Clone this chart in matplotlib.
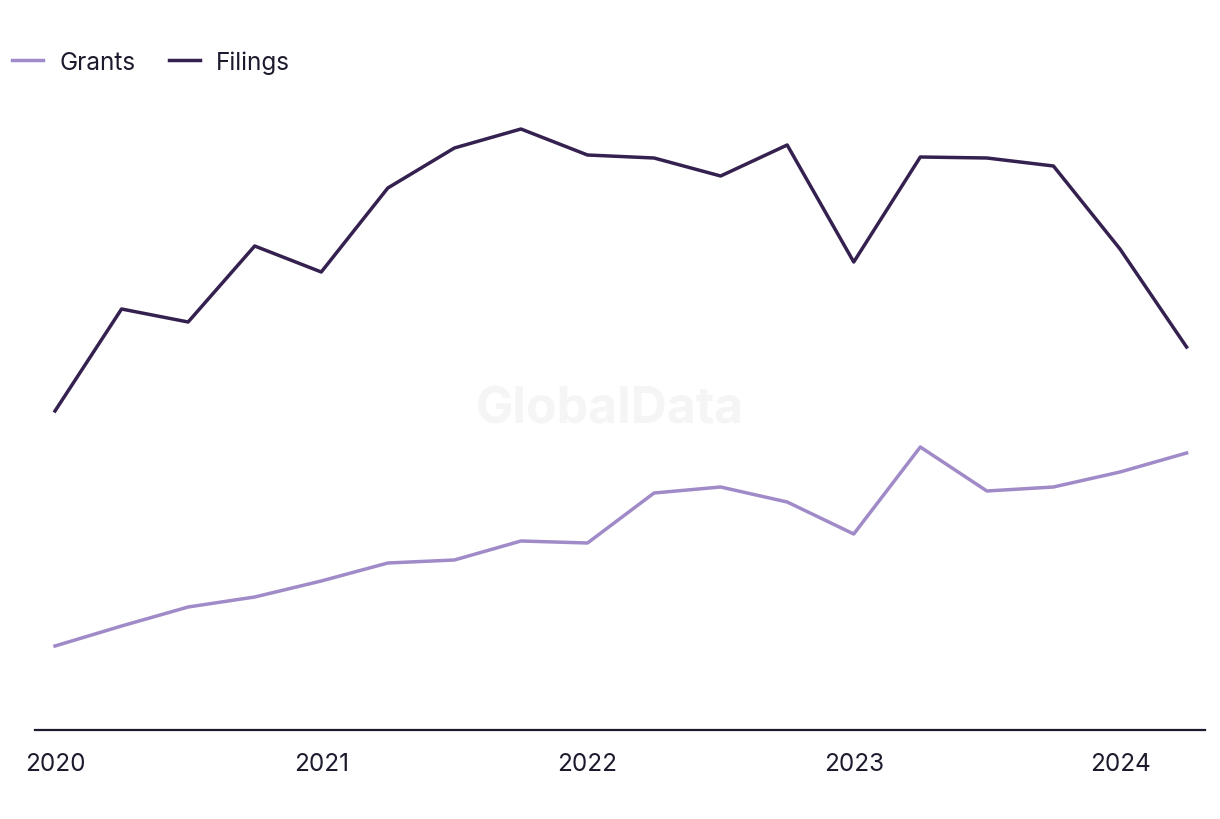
import matplotlib
matplotlib.use("Agg")
import matplotlib.pyplot as plt

# quarterly series, 2020 Q1 .. 2024 Q2 (arbitrary units)
quarters = [2020.0, 2020.25, 2020.5, 2020.75,
            2021.0, 2021.25, 2021.5, 2021.75,
            2022.0, 2022.25, 2022.5, 2022.75,
            2023.0, 2023.25, 2023.5, 2023.75,
            2024.0, 2024.25]
filings = [318, 420, 407, 483, 457, 541, 581, 600, 574,
           571, 553, 584, 467, 572, 571, 563, 480, 382]
grants = [83, 103, 122, 132, 148, 166, 169, 188, 186,
          236, 242, 227, 195, 282, 238, 242, 257, 276]
year_ticks = [2020, 2021, 2022, 2023, 2024]

GRANT_COLOR = "#A08AC8"
FILING_COLOR = "#35214F"
TEXT_COLOR = "#1C1B2E"

plt.rcParams["font.family"] = ["Inter", "DejaVu Sans"]

fig = plt.figure(figsize=(12.2, 8.2), dpi=100)
ax = fig.add_axes([35 / 1220, 1 - 731 / 820, 1170 / 1220, 631 / 820])

ax.text(0.5, 0.5, "GlobalData", transform=fig.transFigure, ha="center", va="center",
        fontsize=36, fontweight="bold", color="#F5F5F5", zorder=0)

ax.plot(quarters, grants, color=GRANT_COLOR, lw=2.5, label="Grants", zorder=2)
ax.plot(quarters, filings, color=FILING_COLOR, lw=2.5, label="Filings", zorder=3)

x0 = 2020 - 20 / 266.25
x1 = 2024 + 85 / 266.25
ax.set_xlim(x0, x1)
ax.set_ylim(-1, 630)

for side in ["top", "right", "left"]:
    ax.spines[side].set_visible(False)
ax.spines["bottom"].set_color(TEXT_COLOR)
ax.spines["bottom"].set_linewidth(1.6)
ax.set_yticks([])
ax.set_xticks(year_ticks)
ax.set_xticklabels([str(y) for y in year_ticks])
ax.tick_params(axis="x", length=0, pad=16, labelsize=17.5, labelcolor=TEXT_COLOR)

leg = fig.legend(loc="center left", bbox_to_anchor=(2 / 1220, 1 - 63 / 820), ncol=2,
                 frameon=False, fontsize=17.5, handlelength=1.3, handletextpad=0.66,
                 columnspacing=1.36, borderaxespad=0)
for t in leg.get_texts():
    t.set_color(TEXT_COLOR)

fig.savefig("out.png", dpi=100, facecolor="white")
